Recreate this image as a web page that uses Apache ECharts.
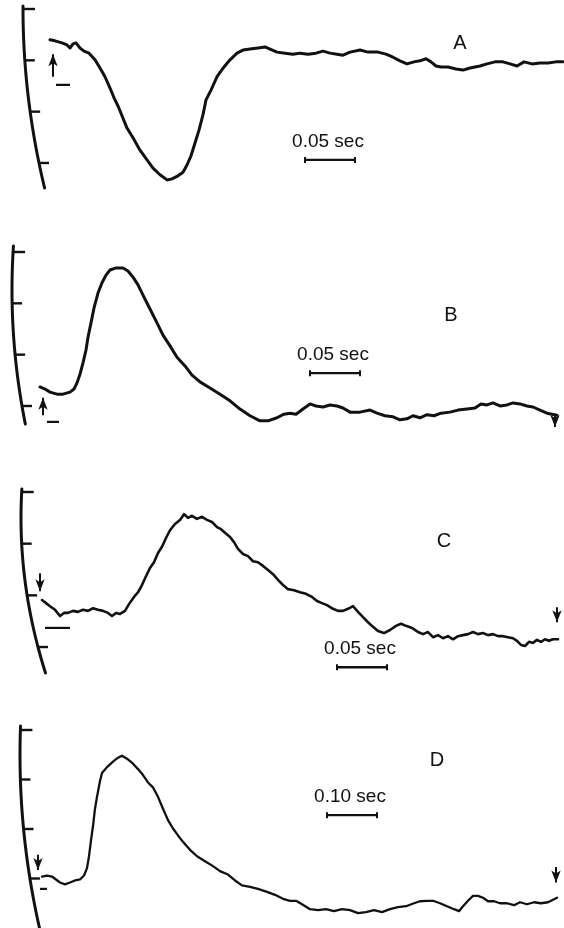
<!DOCTYPE html>
<html>
<head>
<meta charset="utf-8">
<script src="https://cdn.jsdelivr.net/npm/echarts@6/dist/echarts.min.js"></script>
<style>
  html, body { margin: 0; padding: 0; background: #fff; }
  #chart { width: 564px; height: 928px; }
</style>
</head>
<body>
<div id="chart"></div>
<script>
// Recorder traces: [time in ms from the left edge of the sweep, deflection in chart divisions]
const traceA = [
  [10,2.40],[15,2.38],[22,2.34],[27,2.30],[30,2.24],[33,2.32],[36,2.34],[40,2.24],[44,2.18],[49,2.14],
  [55,2.01],[60,1.85],[65,1.68],[70,1.46],[74,1.27],[78,1.11],[82,0.92],[87,0.68],[93,0.49],[100,0.25],
  [107,0.06],[113,-0.10],[120,-0.23],[127,-0.33],[132,-0.31],[138,-0.25],[143,-0.18],[147,-0.04],[151,0.14],[155,0.39],
  [159,0.64],[163,0.94],[166,1.23],[171,1.42],[177,1.68],[184,1.87],[190,2.01],[197,2.14],[203,2.20],[210,2.22],
  [218,2.24],[225,2.26],[230,2.22],[237,2.16],[245,2.14],[253,2.12],[260,2.14],[268,2.12],[276,2.14],[283,2.18],
  [290,2.14],[297,2.12],[303,2.10],[310,2.16],[320,2.20],[328,2.16],[338,2.16],[346,2.12],[353,2.06],[360,1.99],
  [367,1.93],[374,1.97],[380,1.99],[386,2.03],[391,1.97],[396,1.89],[401,1.87],[408,1.87],[416,1.83],[423,1.81],
  [430,1.85],[440,1.89],[447,1.93],[455,1.97],[463,1.97],[470,1.93],[477,1.89],[484,1.97],[492,1.93],[500,1.95],
  [508,1.95],[516,1.97],[523,1.97]
];
const traceB = [
  [0,0.37],[5,0.33],[10,0.27],[17,0.23],[23,0.23],[30,0.27],[34,0.33],[37,0.45],[40,0.62],[43,0.84],
  [46,1.09],[48,1.34],[51,1.62],[54,1.91],[58,2.20],[62,2.40],[66,2.55],[70,2.65],[76,2.69],[83,2.69],
  [88,2.63],[93,2.51],[98,2.36],[103,2.16],[110,1.89],[117,1.62],[123,1.38],[130,1.17],[137,0.95],[145,0.78],
  [152,0.60],[160,0.47],[170,0.35],[180,0.23],[190,0.10],[200,-0.06],[210,-0.19],[220,-0.29],[228,-0.29],[237,-0.23],
  [244,-0.16],[250,-0.14],[256,-0.16],[263,-0.06],[270,0.04],[276,0.00],[283,-0.02],[290,0.02],[297,0.00],[303,-0.04],
  [310,-0.12],[320,-0.12],[330,-0.08],[337,-0.14],[345,-0.19],[353,-0.21],[360,-0.27],[367,-0.25],[373,-0.19],[380,-0.23],
  [387,-0.17],[394,-0.19],[401,-0.14],[410,-0.12],[418,-0.08],[427,-0.06],[435,-0.04],[441,0.04],[447,0.02],[453,0.06],
  [460,0.00],[467,0.02],[473,0.06],[480,0.04],[487,0.00],[493,-0.02],[500,-0.08],[507,-0.14],[512,-0.16],[517,-0.18]
];
const traceC = [
  [2,0.91],[6,0.85],[10,0.79],[15,0.72],[20,0.60],[24,0.66],[28,0.66],[33,0.70],[38,0.68],[43,0.72],
  [48,0.70],[53,0.75],[58,0.72],[63,0.70],[68,0.66],[72,0.60],[76,0.66],[80,0.64],[85,0.70],[89,0.83],
  [94,0.97],[98,1.06],[102,1.20],[106,1.37],[110,1.53],[114,1.64],[118,1.82],[122,1.94],[126,2.11],[130,2.26],
  [135,2.38],[140,2.46],[144,2.57],[148,2.50],[152,2.54],[157,2.48],[162,2.52],[167,2.46],[172,2.42],[177,2.32],
  [181,2.28],[185,2.21],[190,2.13],[194,2.03],[198,1.90],[203,1.80],[208,1.76],[213,1.66],[218,1.64],[223,1.57],
  [228,1.49],[233,1.41],[238,1.30],[243,1.20],[248,1.12],[254,1.10],[260,1.06],[266,1.03],[272,0.97],[277,0.89],
  [282,0.85],[287,0.81],[293,0.74],[298,0.70],[303,0.70],[308,0.74],[313,0.79],[318,0.68],[323,0.58],[328,0.48],
  [333,0.39],[338,0.31],[344,0.27],[350,0.33],[356,0.41],[361,0.45],[366,0.41],[372,0.37],[378,0.29],[383,0.25],
  [388,0.29],[393,0.19],[398,0.23],[403,0.17],[408,0.21],[413,0.15],[418,0.21],[423,0.23],[428,0.25],[433,0.29],
  [438,0.25],[443,0.27],[448,0.23],[453,0.25],[458,0.21],[463,0.21],[468,0.19],[473,0.17],[477,0.12],[481,0.04],
  [485,0.02],[489,0.10],[493,0.08],[497,0.14],[501,0.10],[505,0.15],[509,0.12],[513,0.15],[518,0.15]
];
const traceD = [
  [4,0.04],[14,0.06],[24,0.04],[32,-0.02],[40,-0.08],[50,-0.12],[60,-0.08],[70,-0.04],[80,-0.02],[88,0.06],
  [94,0.21],[98,0.45],[102,0.77],[106,1.06],[110,1.41],[114,1.65],[120,1.97],[124,2.13],[134,2.25],[146,2.36],
  [156,2.44],[164,2.48],[174,2.42],[186,2.32],[196,2.21],[206,2.09],[216,1.94],[226,1.84],[236,1.65],[246,1.41],
  [256,1.18],[266,1.01],[276,0.87],[286,0.74],[300,0.58],[314,0.45],[330,0.35],[346,0.25],[360,0.15],[376,0.08],
  [390,-0.04],[404,-0.14],[420,-0.17],[436,-0.21],[454,-0.27],[470,-0.33],[486,-0.41],[500,-0.45],[512,-0.45],[524,-0.52],
  [540,-0.62],[556,-0.64],[572,-0.62],[588,-0.66],[604,-0.62],[620,-0.64],[636,-0.70],[652,-0.68],[668,-0.64],[684,-0.68],
  [700,-0.62],[716,-0.58],[732,-0.56],[748,-0.50],[760,-0.46],[774,-0.45],[786,-0.45],[800,-0.50],[814,-0.56],[828,-0.62],
  [838,-0.66],[846,-0.56],[856,-0.45],[866,-0.35],[876,-0.35],[886,-0.39],[896,-0.46],[908,-0.46],[920,-0.50],[934,-0.50],
  [948,-0.54],[960,-0.48],[974,-0.52],[988,-0.48],[1002,-0.50],[1016,-0.48],[1026,-0.43],[1034,-0.39]
];

const panelNames = ['A', 'B', 'C', 'D'];
const scaleLabels = ['0.05 sec', '0.05 sec', '0.05 sec', '0.10 sec'];
const scaleLengths = [50, 50, 50, 100];   // ms
const divisionTicks = [0, 1, 2, 3];

const traces = [traceA, traceB, traceC, traceD];

// Page layout for each panel
const layout = [
  { top: 9,   height: 205.3, xMin: -40, xMax: 524,  width: 3.0,
    bar: { t: 265, v: 0.06 }, name: { x: 460, y: 43 },
    arc: { xv: 23, yv: 8,   k: 0.000666, y0: 6,   y1: 188 },
    start: { t: 13, tail: 1.68, head: 2.12, dir: 'up' }, dash: { t0: 16, t1: 30, v: 1.52 }, end: null },
  { top: 252, height: 205.3, xMin: -40, xMax: 524,  width: 3.0,
    bar: { t: 270, v: 0.64 }, name: { x: 451, y: 315 },
    arc: { xv: 12, yv: 290, k: 0.000743, y0: 246, y1: 424 },
    start: { t: 3, tail: -0.18, head: 0.16, dir: 'up' }, dash: { t0: 7, t1: 19, v: -0.31 },
    end: { t: 515, tail: -0.19, head: -0.41, dir: 'down' } },
  { top: 492, height: 206.7, xMin: -40, xMax: 524,  width: 2.6,
    bar: { t: 297, v: -0.39 }, name: { x: 444, y: 541 },
    arc: { xv: 21, yv: 518, k: 0.00102, y0: 489, y1: 673 },
    start: { t: 0, tail: 1.43, head: 1.08, dir: 'down' }, dash: { t0: 5, t1: 30, v: 0.37 },
    end: { t: 517, tail: 0.77, head: 0.48, dir: 'down' } },
  { top: 730, height: 206.7, xMin: -80, xMax: 1048, width: 2.3,
    bar: { t: 574, v: 1.28 }, name: { x: 437, y: 760 },
    arc: { xv: 20, yv: 755, k: 0.000651, y0: 726, y1: 928 },
    start: { t: -4, tail: 0.48, head: 0.17, dir: 'down' }, dash: { t0: 0, t1: 14, v: -0.21 },
    end: { t: 1032, tail: 0.23, head: -0.08, dir: 'down' } }
];

const INK = '#111';
const FONT = '"Liberation Sans", Arial, sans-serif';

const grid = [], xAxis = [], yAxis = [], series = [];

layout.forEach((p, i) => {
  grid.push({ left: 0, width: 564, top: p.top, height: p.height });
  xAxis.push({ type: 'value', gridIndex: i, min: p.xMin, max: p.xMax, show: false });
  yAxis.push({ type: 'value', gridIndex: i, min: -1, max: 3, interval: 1, show: false });

  const ax = { xAxisIndex: i, yAxisIndex: i, silent: true, animation: false };

  // the recorded trace
  series.push(Object.assign({
    type: 'line', name: 'trace ' + panelNames[i], data: traces[i],
    showSymbol: false, symbol: 'none', clip: false,
    lineStyle: { color: INK, width: p.width, join: 'round', cap: 'round' }
  }, ax));

  // time scale bar
  const t0 = p.bar.t, t1 = p.bar.t + scaleLengths[i];
  series.push(Object.assign({
    type: 'line', name: 'scale ' + panelNames[i], clip: false,
    symbol: 'rect', symbolSize: [2, 6], showSymbol: true,
    lineStyle: { color: INK, width: 2.4 }, itemStyle: { color: INK },
    data: [[t0, p.bar.v], [t1, p.bar.v]]
  }, ax));

  // stimulus markers: arrows and baseline dash
  const arrow = (m) => Object.assign({
    type: 'line', clip: false, showSymbol: true,
    lineStyle: { color: INK, width: 2 }, itemStyle: { color: INK },
    data: [
      { value: [m.t, m.tail], symbol: 'none' },
      { value: [m.t, m.head], symbol: 'arrow', symbolSize: [7, 12],
        symbolRotate: m.dir === 'up' ? 0 : 180 }
    ]
  }, ax);
  series.push(arrow(p.start));
  if (p.end) series.push(arrow(p.end));
  series.push(Object.assign({
    type: 'line', clip: false, symbol: 'none',
    lineStyle: { color: INK, width: 2.2 },
    data: [[p.dash.t0, p.dash.v], [p.dash.t1, p.dash.v]]
  }, ax));
});

const chart = echarts.init(document.getElementById('chart'), null, { renderer: 'canvas' });
chart.setOption({ animation: false, backgroundColor: '#fff', grid, xAxis, yAxis, series });

// Curved pen-arc axes with division ticks, scale-bar captions and panel letters
const graphic = [];
layout.forEach((p, i) => {
  const a = p.arc;
  const arcX = (y) => a.xv + a.k * (y - a.yv) * (y - a.yv);
  const pts = [];
  for (let y = a.y0; y <= a.y1; y += 3) pts.push([arcX(y), y]);
  pts.push([arcX(a.y1), a.y1]);
  graphic.push({ type: 'polyline', shape: { points: pts, smooth: 0.3 },
    style: { stroke: INK, lineWidth: 3, fill: null, lineCap: 'round' }, silent: true });
  divisionTicks.forEach((v) => {
    const y = chart.convertToPixel({ gridIndex: i }, [0, v])[1];
    const x = arcX(y);
    const len = v === 3 ? 12 : 10;
    graphic.push({ type: 'line', shape: { x1: x, y1: y, x2: x + len, y2: y },
      style: { stroke: INK, lineWidth: 2.4 }, silent: true });
  });

  const mid = chart.convertToPixel({ gridIndex: i },
    [p.bar.t + scaleLengths[i] / 2, p.bar.v]);
  graphic.push({ type: 'text', x: mid[0] - 2, y: mid[1] - 9, silent: true,
    style: { text: scaleLabels[i], fill: INK, font: '19px ' + FONT,
             textAlign: 'center', textVerticalAlign: 'bottom' } });

  graphic.push({ type: 'text', x: p.name.x, y: p.name.y, silent: true,
    style: { text: panelNames[i], fill: INK, font: '20px ' + FONT,
             textAlign: 'center', textVerticalAlign: 'middle' } });
});
chart.setOption({ graphic });
</script>
</body>
</html>
